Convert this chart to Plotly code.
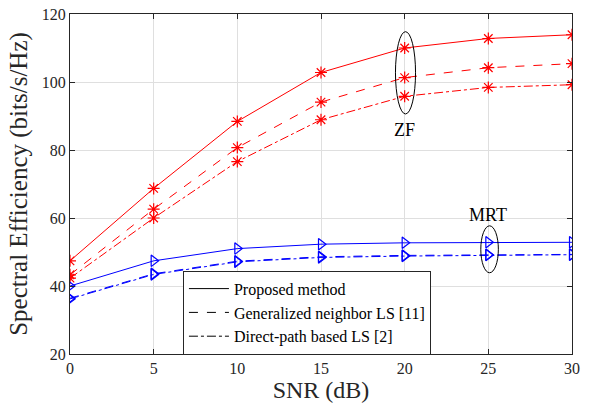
import plotly.graph_objects as go

snr = [0, 5, 10, 15, 20, 25, 30]
zf_proposed = [47.4, 68.7, 88.4, 102.8, 110.0, 112.8, 113.9]
zf_gnls = [43.3, 62.6, 80.7, 94.1, 101.3, 104.2, 105.4]
zf_dpls = [42.3, 60.0, 76.6, 88.9, 95.8, 98.4, 99.2]
mrt_proposed = [40.0, 47.4, 51.0, 52.3, 52.7, 52.85, 52.85]
mrt_gnls = [36.4, 43.6, 47.3, 48.6, 49.0, 49.2, 49.3]
mrt_dpls = [36.2, 43.4, 47.1, 48.4, 48.8, 49.1, 49.2]
legend_names = ["Proposed method", "Generalized neighbor LS [11]", "Direct-path based LS [2]"]
dashes = ["solid", "dash", "dashdot"]

FONT = "Liberation Serif"
fig = go.Figure()

for ys, d in zip([zf_proposed, zf_gnls, zf_dpls], dashes):
    fig.add_trace(go.Scatter(x=snr, y=ys, mode="lines+markers", showlegend=False,
                             line=dict(color="#ff0000", width=1, dash=d),
                             marker=dict(symbol="asterisk-open", size=10,
                                         line=dict(color="#ff0000", width=1.2))))
for ys, d in zip([mrt_proposed, mrt_gnls, mrt_dpls], dashes):
    fig.add_trace(go.Scatter(x=snr, y=ys, mode="lines+markers", showlegend=False,
                             line=dict(color="#0000ff", width=1, dash=d),
                             marker=dict(symbol="triangle-right-open", size=10,
                                         line=dict(color="#0000ff", width=1.2))))
for name, d in zip(legend_names, dashes):
    fig.add_trace(go.Scatter(x=[None], y=[None], mode="lines", name=name,
                             line=dict(color="black", width=1, dash=d)))

fig.add_shape(type="circle", xref="x", yref="y", x0=19.45, x1=20.65, y0=90.6, y1=114.8,
              line=dict(color="black", width=1))
fig.add_shape(type="circle", xref="x", yref="y", x0=24.55, x1=25.6, y0=43.9, y1=57.7,
              line=dict(color="black", width=1))
fig.add_annotation(x=20, y=86.0, text="ZF", showarrow=False, xref="x", yref="y",
                   font=dict(family=FONT, size=18, color="black"))
fig.add_annotation(x=25, y=61.0, text="MRT", showarrow=False, xref="x", yref="y",
                   font=dict(family=FONT, size=18, color="black"))

axis_common = dict(showline=True, linecolor="#262626", linewidth=1, mirror="ticks",
                   ticks="inside", ticklen=5, tickcolor="#262626", automargin=False,
                   ticklabeloverflow="allow",
                   showgrid=True, gridcolor="#dfdfdf", gridwidth=1, zeroline=False,
                   tickfont=dict(family=FONT, size=16, color="#262626"))

fig.update_layout(
    width=590, height=411,
    margin=dict(l=70, r=18, t=14, b=57),
    paper_bgcolor="white", plot_bgcolor="white",
    xaxis=dict(range=[0, 30], tickvals=[0, 5, 10, 15, 20, 25, 30],
               title=dict(text="SNR (dB)", font=dict(family=FONT, size=24, color="#262626"), standoff=2),
               **axis_common),
    yaxis=dict(range=[20, 120], tickvals=[20, 40, 60, 80, 100, 120],
               title=dict(text="Spectral Efficiency (bits/s/Hz)", font=dict(family=FONT, size=25, color="#262626"), standoff=7),
               **axis_common),
    legend=dict(x=0.225, y=0.245, xanchor="left", yanchor="top",
                bgcolor="white", bordercolor="#262626", borderwidth=1,
                font=dict(family=FONT, size=16, color="black"),
                tracegroupgap=0, itemwidth=40),
    showlegend=True,
)

# remove the page's default 8px body margin so the figure fills the window exactly
fig.write_html("out.html", config={"displayModeBar": False},
               post_script="document.body.style.margin='0';document.body.style.overflow='hidden';")
